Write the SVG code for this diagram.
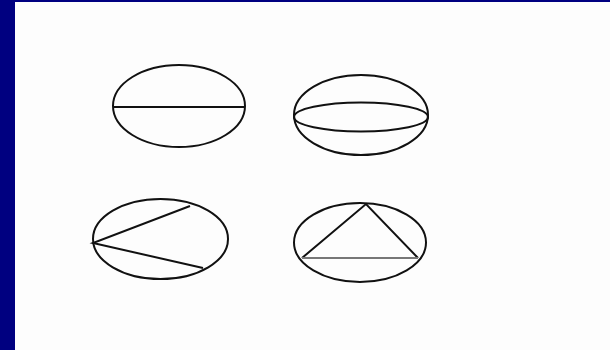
<svg xmlns="http://www.w3.org/2000/svg" width="610" height="350" viewBox="0 0 610 350">
<style>
.s{fill:none;stroke:#111;stroke-width:2}
</style>
<rect x="0" y="0" width="610" height="350" fill="#fdfdfd"/>
<rect x="0" y="0" width="15" height="350" fill="#000080"/>
<rect x="0" y="0" width="610" height="2" fill="#000080"/>
<g id="node1">
<ellipse class="s" cx="179" cy="106" rx="66" ry="41"/>
<line class="s" x1="113" y1="107" x2="245" y2="107"/>
</g>
<g id="node2">
<ellipse class="s" cx="361" cy="115" rx="67" ry="40"/>
<ellipse class="s" cx="361" cy="117" rx="67" ry="14.5"/>
</g>
<g id="node3">
<ellipse class="s" cx="160.5" cy="239" rx="67.5" ry="40"/>
<polyline class="s" points="190,206 93,243 203,268"/>
</g>
<g id="node4">
<ellipse class="s" cx="360" cy="242.5" rx="66" ry="39.5"/>
<polyline class="s" points="302,258 366,204 418,258"/>
<line x1="302" y1="258" x2="418" y2="258" stroke="#777" stroke-width="2"/>
</g>
</svg>
